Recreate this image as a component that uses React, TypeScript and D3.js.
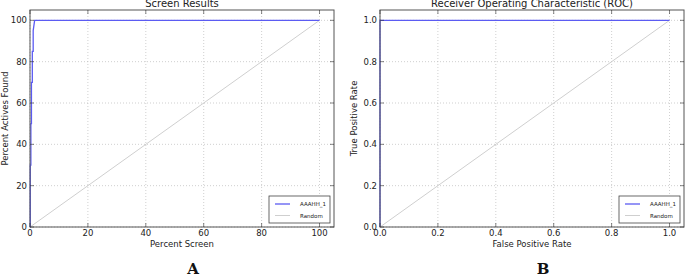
import React from "react";
import * as d3 from "d3";

const W = 685;
const H = 277;

// Left chart: Screen Results
const screenPct = [0, 0.1, 0.1, 0.3, 0.3, 0.5, 0.5, 0.8, 0.8, 1.1, 1.1, 1.6, 100];
const foundPct = [0, 0, 30, 30, 50, 50, 70, 70, 85, 85, 95, 100, 100];
const randomScreen = [0, 100];
const randomFound = [0, 100];
const screenTicks = [0, 20, 40, 60, 80, 100];

// Right chart: ROC
const fpr = [0, 0, 1];
const tpr = [0, 1, 1];
const randomFpr = [0, 1];
const randomTpr = [0, 1];
const rocTicks = [0, 0.2, 0.4, 0.6, 0.8, 1.0];

const seriesNames = ["AAAHH_1", "Random"];
const BLUE = "#5b5bf2";
const GRAY = "#cfcfcf";
const FONT = "DejaVu Sans, sans-serif";

type PanelProps = {
  x0: number;
  x1: number;
  y0: number;
  y1: number;
  xmax: number;
  ticks: number[];
  fmt: (v: number) => string;
  xs: number[];
  ys: number[];
  rx: number[];
  ry: number[];
  title: string;
  xlabel: string;
  ylabel: string;
  ylabelX: number;
  letter: string;
};

function Panel(p: PanelProps) {
  const x = d3.scaleLinear().domain([0, p.xmax]).range([p.x0, p.x1]);
  const y = d3.scaleLinear().domain([0, p.xmax]).range([p.y1, p.y0]);
  const line = d3
    .line<[number, number]>()
    .x((d) => x(d[0]))
    .y((d) => y(d[1]));
  const main = line(p.xs.map((v, i) => [v, p.ys[i]] as [number, number])) || "";
  const rnd = line(p.rx.map((v, i) => [v, p.ry[i]] as [number, number])) || "";
  const cx = (p.x0 + p.x1) / 2;
  const cy = (p.y0 + p.y1) / 2;
  const lgX = p.x1 - 65;
  const lgY = p.y1 - 31;
  return (
    <g>
      <rect x={p.x0} y={p.y0} width={p.x1 - p.x0} height={p.y1 - p.y0} fill="white" />
      {p.ticks.map((t) => (
        <g key={"g" + t}>
          <line x1={x(t)} x2={x(t)} y1={p.y0} y2={p.y1} stroke="#b0b0b0" strokeWidth={0.6} strokeDasharray="1,2" />
          <line x1={p.x0} x2={p.x1} y1={y(t)} y2={y(t)} stroke="#b0b0b0" strokeWidth={0.6} strokeDasharray="1,2" />
        </g>
      ))}
      <path d={rnd} fill="none" stroke={GRAY} strokeWidth={1} />
      <path d={main} fill="none" stroke={BLUE} strokeWidth={1.3} />
      <rect x={p.x0} y={p.y0} width={p.x1 - p.x0} height={p.y1 - p.y0} fill="none" stroke="#555" strokeWidth={1} />
      {p.ticks.map((t) => (
        <g key={"t" + t}>
          <line x1={x(t)} x2={x(t)} y1={p.y1} y2={p.y1 - 4} stroke="#333" strokeWidth={0.6} />
          <line x1={x(t)} x2={x(t)} y1={p.y0} y2={p.y0 + 4} stroke="#333" strokeWidth={0.6} />
          <line x1={p.x0} x2={p.x0 + 4} y1={y(t)} y2={y(t)} stroke="#333" strokeWidth={0.6} />
          <line x1={p.x1} x2={p.x1 - 4} y1={y(t)} y2={y(t)} stroke="#333" strokeWidth={0.6} />
          <text x={x(t)} y={p.y1 + 9} fontSize={8.5} textAnchor="middle" fill="#222" fontFamily={FONT}>
            {p.fmt(t)}
          </text>
          <text x={p.x0 - 3} y={y(t) + 3} fontSize={8.5} textAnchor="end" fill="#222" fontFamily={FONT}>
            {p.fmt(t)}
          </text>
        </g>
      ))}
      <text x={cx} y={7} fontSize={10} textAnchor="middle" fill="#222" fontFamily={FONT}>
        {p.title}
      </text>
      <text x={cx} y={p.y1 + 20} fontSize={8.5} textAnchor="middle" fill="#222" fontFamily={FONT}>
        {p.xlabel}
      </text>
      <text
        transform={`translate(${p.ylabelX},${cy}) rotate(-90)`}
        fontSize={8.5}
        textAnchor="middle"
        fill="#222"
        fontFamily={FONT}
      >
        {p.ylabel}
      </text>
      <g>
        <rect x={lgX} y={lgY} width={61} height={27} fill="white" stroke="#444" strokeWidth={0.8} />
        <line x1={lgX + 6} x2={lgX + 21} y1={lgY + 8} y2={lgY + 8} stroke={BLUE} strokeWidth={1.3} />
        <line x1={lgX + 6} x2={lgX + 21} y1={lgY + 19.5} y2={lgY + 19.5} stroke={GRAY} strokeWidth={1} />
        <text x={lgX + 31} y={lgY + 10} fontSize={5.5} fill="#222" fontFamily={FONT}>
          {seriesNames[0]}
        </text>
        <text x={lgX + 31} y={lgY + 21.5} fontSize={5.5} fill="#222" fontFamily={FONT}>
          {seriesNames[1]}
        </text>
      </g>
      <text x={cx + 11} y={274} fontSize={15} fontWeight="bold" textAnchor="middle" fill="#111" fontFamily="DejaVu Serif, serif">
        {p.letter}
      </text>
    </g>
  );
}

export default function App() {
  return (
    <svg
      width={W}
      height={H}
      style={{ position: "absolute", left: 0, top: 0, background: "white" }}
    >
      <rect width={W} height={H} fill="white" />
      <Panel
        x0={30}
        x1={334}
        y0={10}
        y1={227}
        xmax={105}
        ticks={screenTicks}
        fmt={(v) => d3.format("d")(v)}
        xs={screenPct}
        ys={foundPct}
        rx={randomScreen}
        ry={randomFound}
        title="Screen Results"
        xlabel="Percent Screen"
        ylabel="Percent Actives Found"
        ylabelX={8}
        letter="A"
      />
      <Panel
        x0={380}
        x1={684}
        y0={10}
        y1={227}
        xmax={1.05}
        ticks={rocTicks}
        fmt={(v) => d3.format(".1f")(v)}
        xs={fpr}
        ys={tpr}
        rx={randomFpr}
        ry={randomTpr}
        title="Receiver Operating Characteristic (ROC)"
        xlabel="False Positive Rate"
        ylabel="True Positive Rate"
        ylabelX={357}
        letter="B"
      />
    </svg>
  );
}
